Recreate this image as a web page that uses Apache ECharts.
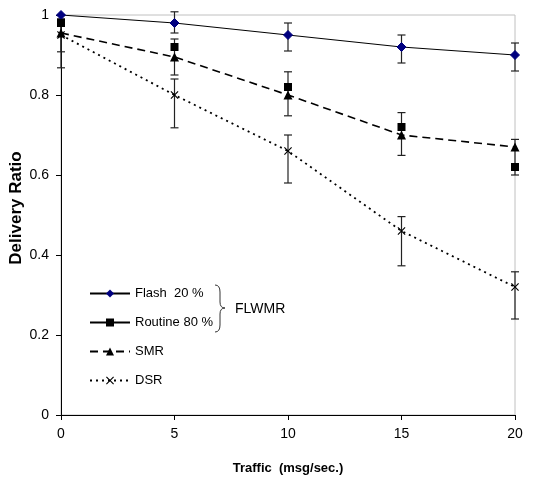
<!DOCTYPE html>
<html>
<head>
<meta charset="utf-8">
<script src="https://cdn.jsdelivr.net/npm/echarts@6/dist/echarts.min.js"></script>
<style>
  html, body { margin: 0; padding: 0; background: #fff; }
  #chart { width: 540px; height: 486px; }
</style>
</head>
<body>
<div id="chart"></div>
<script>
// traffic values (msg/sec)
const traffic = [0, 5, 10, 15, 20]

// delivery ratio per protocol
const flash = [1.0, 0.98, 0.95, 0.92, 0.90]
const routine = [0.98, 0.92, 0.82, 0.72, 0.62]
const smr = [0.955, 0.895, 0.80, 0.70, 0.67]
const dsr = [0.95, 0.80, 0.66, 0.46, 0.32]

// error bar ends
const flashLow = [0.99, 0.955, 0.91, 0.88, 0.86]
const flashHigh = [1.0, 1.008, 0.98, 0.95, 0.93]
const smrLow = [0.908, 0.85, 0.748, 0.649, 0.60]
const smrHigh = [1.0, 0.94, 0.858, 0.756, 0.689]
const dsrLow = [0.868, 0.718, 0.58, 0.373, 0.24]
const dsrHigh = [0.99, 0.84, 0.70, 0.496, 0.358]

const font = 'Liberation Sans, Arial, sans-serif'
const xMark = 'path://M0,1 L1,0 L5,4 L9,0 L10,1 L6,5 L10,9 L9,10 L5,6 L1,10 L0,9 L4,5 Z'

// error bar series built with the chart's own coordinate system
function errorBars(low, high) {
  return {
    type: 'custom',
    silent: true,
    z: 1,
    data: traffic.map((t, i) => [t, low[i], high[i]]),
    renderItem: (params, api) => {
      const lo = api.coord([api.value(0), api.value(1)])
      const hi = api.coord([api.value(0), api.value(2)])
      const w = 4
      const style = { stroke: '#222', lineWidth: 1.2 }
      return {
        type: 'group',
        children: [
          { type: 'line', shape: { x1: lo[0], y1: lo[1], x2: hi[0], y2: hi[1] }, style },
          { type: 'line', shape: { x1: lo[0] - w, y1: lo[1], x2: lo[0] + w, y2: lo[1] }, style },
          { type: 'line', shape: { x1: hi[0] - w, y1: hi[1], x2: hi[0] + w, y2: hi[1] }, style }
        ]
      }
    }
  }
}

// curly brace next to the FLWMR legend items
const braceStyle = { stroke: '#333', lineWidth: 1, fill: null }
const brace = [
  { type: 'bezierCurve', shape: { x1: 215, y1: 285, cpx1: 220, cpy1: 285, x2: 220, y2: 292 }, style: braceStyle },
  { type: 'line', shape: { x1: 220, y1: 292, x2: 220, y2: 302 }, style: braceStyle },
  { type: 'bezierCurve', shape: { x1: 220, y1: 302, cpx1: 220, cpy1: 308, x2: 225, y2: 308 }, style: braceStyle },
  { type: 'bezierCurve', shape: { x1: 225, y1: 308, cpx1: 220, cpy1: 308, x2: 220, y2: 314 }, style: braceStyle },
  { type: 'line', shape: { x1: 220, y1: 314, x2: 220, y2: 325 }, style: braceStyle },
  { type: 'bezierCurve', shape: { x1: 220, y1: 325, cpx1: 220, cpy1: 332, x2: 215, y2: 332 }, style: braceStyle }
]

const chart = echarts.init(document.getElementById('chart'))
chart.setOption({
  animation: false,
  backgroundColor: '#fff',
  textStyle: { fontFamily: font },
  grid: {
    left: 61, right: 25, top: 15, bottom: 71, outerBoundsMode: 'none',
    show: true, borderColor: '#c0c0c0', borderWidth: 1
  },
  xAxis: {
    type: 'value', min: 0, max: 20, interval: 5,
    name: 'Traffic  (msg/sec.)', nameLocation: 'middle', nameGap: 47,
    nameTextStyle: { fontFamily: font, fontWeight: 'bold', fontSize: 13, color: '#000' },
    axisLine: { lineStyle: { color: '#000', width: 1 } },
    axisTick: { length: 5, lineStyle: { color: '#000' } },
    axisLabel: { fontFamily: font, fontSize: 14, color: '#000', margin: 12 },
    splitLine: { show: false }
  },
  yAxis: {
    type: 'value', min: 0, max: 1, interval: 0.2,
    axisLine: { show: true, lineStyle: { color: '#000', width: 1 } },
    axisTick: { show: true, length: 5, lineStyle: { color: '#000' } },
    axisLabel: { fontFamily: font, fontSize: 14, color: '#000', margin: 12 },
    splitLine: { show: false }
  },
  legend: {
    orient: 'vertical', left: 84, top: 282,
    itemWidth: 40, itemHeight: 10, itemGap: 16,
    textStyle: { fontFamily: font, fontSize: 13, color: '#000' },
    data: [
      { name: 'Flash  20 %' },
      { name: 'Routine 80 %', lineStyle: { opacity: 1, width: 2, color: '#000' } },
      { name: 'SMR' },
      { name: 'DSR' }
    ]
  },
  graphic: [
    // y axis title, placed by hand so it sits where the original has it
    {
      type: 'text', x: 16, y: 208, rotation: Math.PI / 2,
      style: {
        text: 'Delivery Ratio', font: 'bold 17px ' + font, fill: '#000',
        align: 'center', verticalAlign: 'middle'
      }
    },
    { type: 'group', children: brace },
    {
      type: 'text', left: 235, top: 302,
      style: { text: 'FLWMR', font: '14px ' + font, fill: '#000' }
    }
  ],
  series: [
    errorBars(flashLow, flashHigh),
    errorBars(smrLow, smrHigh),
    errorBars(dsrLow, dsrHigh),
    {
      name: 'Flash  20 %', type: 'line', z: 3,
      data: traffic.map((t, i) => [t, flash[i]]),
      symbol: 'diamond', symbolSize: 9,
      lineStyle: { color: '#000', width: 1 },
      itemStyle: { color: '#000080', borderColor: '#000080' }
    },
    {
      name: 'Routine 80 %', type: 'line', z: 3,
      data: traffic.map((t, i) => [t, routine[i]]),
      symbol: 'rect', symbolSize: 8,
      lineStyle: { color: '#000', width: 2, opacity: 0 },
      itemStyle: { color: '#000' }
    },
    {
      name: 'SMR', type: 'line', z: 3,
      data: traffic.map((t, i) => [t, smr[i]]),
      symbol: 'triangle', symbolSize: 9,
      lineStyle: { color: '#000', width: 1.6, type: [8, 5] },
      itemStyle: { color: '#000' }
    },
    {
      name: 'DSR', type: 'line', z: 3,
      data: traffic.map((t, i) => [t, dsr[i]]),
      symbol: xMark, symbolSize: 8,
      lineStyle: { color: '#000', width: 1.8, type: [2, 4] },
      itemStyle: { color: '#000' }
    }
  ]
})
</script>
</body>
</html>
